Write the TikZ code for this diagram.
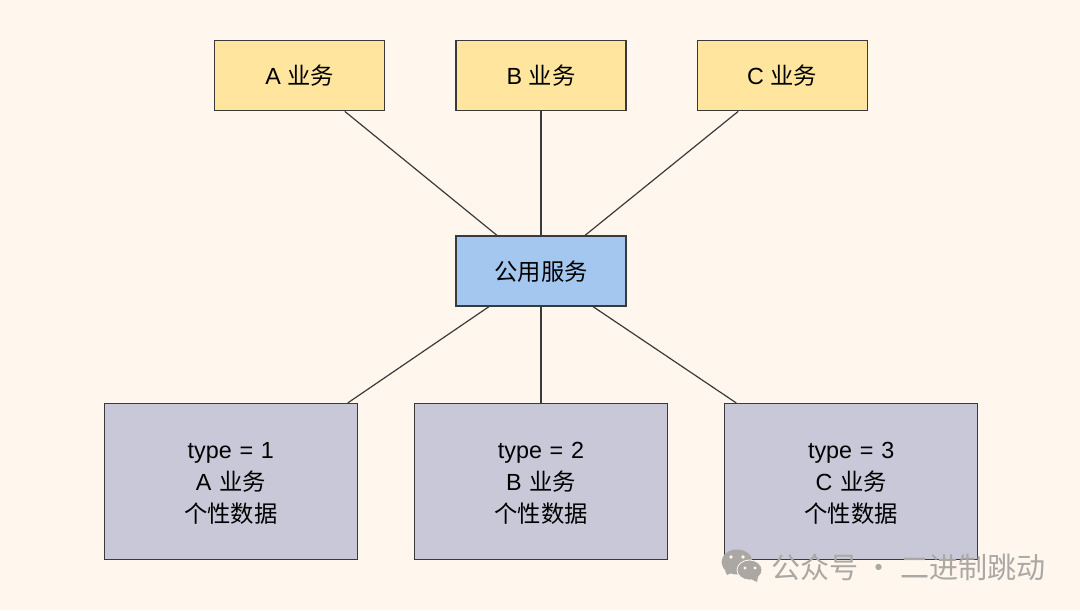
\documentclass[tikz,border=0pt]{standalone}
\usepackage{fontspec}
\usepackage{xcolor}
\setmainfont{Liberation Sans}
\newfontfamily\cjk{Noto Sans CJK SC}
\usetikzlibrary{positioning}
\definecolor{paper}{HTML}{FFF6EE}
\definecolor{bizyellow}{HTML}{FFE59D}
\definecolor{sharedblue}{HTML}{A4C7EF}
\definecolor{datagray}{HTML}{C8C8D8}
\definecolor{markgray}{HTML}{ABA8A4}
\definecolor{edgeline}{HTML}{3A3A3A}
\newcommand{\lowtext}{\rule{0pt}{15pt}}

\begin{document}
\begin{tikzpicture}[x=0.75pt, y=-0.75pt]
    % Styles
    \tikzset{
        box/.style = {rectangle, draw=edgeline, line width=0.9pt, text=black, text centered, inner sep=0pt, font=\fontsize{17.5}{24}\selectfont},
        biz/.style = {box, fill=bizyellow, minimum width=127.5pt, minimum height=52.5pt},
        shared/.style = {box, fill=sharedblue, minimum width=127.5pt, minimum height=52.5pt},
        data/.style = {box, fill=datagray, minimum width=189.75pt, minimum height=117pt, text width=180pt},
        line/.style = {draw=edgeline, line width=0.9pt}
    }
    \useasboundingbox (0,0) rectangle (1080,610);
    \fill [paper] (0,0) rectangle (1080,610);

    % Nodes
    \node [shared] (common) at (541,271) {\lowtext\cjk 公用服务};
    \node [biz, above=93pt of common] (bizb) {\lowtext B {\cjk 业务}};
    \node [biz, left=52.5pt of bizb] (biza) {\lowtext A {\cjk 业务}};
    \node [biz, right=52.5pt of bizb] (bizc) {\lowtext C {\cjk 业务}};
    \node [data] (datab) at (541,481.5) {\lowtext type = 2\\B {\cjk 业务}\\{\cjk 个性数据}};
    \node [data, left=42pt of datab] (dataa) {\lowtext type = 1\\A {\cjk 业务}\\{\cjk 个性数据}};
    \node [data, right=42pt of datab] (datac) {\lowtext type = 3\\C {\cjk 业务}\\{\cjk 个性数据}};

    % Edges
    \path [line] ([xshift=33.75pt]biza.south) -- ([xshift=-33pt]common.north);
    \path [line] (bizb) -- (common);
    \path [line] ([xshift=-33pt]bizc.south) -- ([xshift=33pt]common.north);
    \path [line] ([xshift=-39pt]common.south) -- ([xshift=87.75pt]dataa.north);
    \path [line] (common) -- (datab);
    \path [line] ([xshift=39pt]common.south) -- ([xshift=-86.25pt]datac.north);

    % Watermark
    \fill [markgray] (737,562) ellipse (15.5 and 12.5);
    \fill [markgray] (727,575) -- (725,571) -- (733,572) -- cycle;
    \filldraw [markgray, draw=paper, line width=0.6pt] (749.5,570) ellipse (12.5 and 10);
    \fill [markgray] (757,582) -- (758,577) -- (751,579) -- cycle;
    \fill [paper] (731,557) circle (1.9) (743,557) circle (1.9);
    \fill [paper] (745,568) circle (1.6) (755,568) circle (1.6);
    \node [text=markgray, inner sep=0pt, font=\fontsize{21.8}{24}\selectfont\cjk] (mark) at (908.5,567) {公众号 · 二进制跳动};
\end{tikzpicture}
\end{document}
